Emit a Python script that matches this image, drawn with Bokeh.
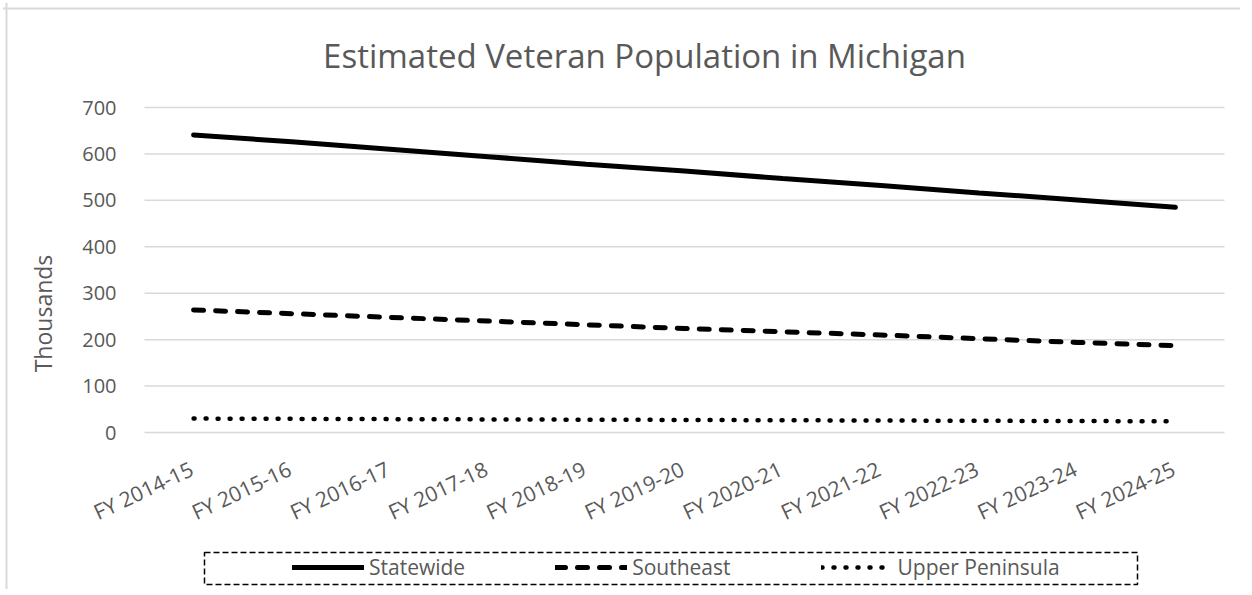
import math
from bokeh.plotting import figure
from bokeh.models import Label, Legend, LegendItem, BoxAnnotation, Range1d, Span
from bokeh.core.properties import value
from bokeh.embed import file_html
from bokeh.resources import INLINE

years = ["FY 2014-15", "FY 2015-16", "FY 2016-17", "FY 2017-18", "FY 2018-19",
         "FY 2019-20", "FY 2020-21", "FY 2021-22", "FY 2022-23", "FY 2023-24", "FY 2024-25"]
statewide = [641, 626, 610, 594, 578, 563, 547, 532, 516, 501, 485]
southeast = [264, 256, 248, 240, 232, 224, 217, 210, 202, 194, 187]
upper_peninsula = [30, 29.4, 28.8, 28.2, 27.6, 27.0, 26.4, 25.8, 25.2, 24.7, 24.2]
y_ticks = [0, 100, 200, 300, 400, 500, 600, 700]
y_tick_labels = [str(t) for t in y_ticks]

FONT = "Open Sans"
GRAY = "#595959"
GRID = "#d9d9d9"

idx = list(range(len(years)))

# Layout: the frame covers the whole chart; the value axis (0..700) uses 325 px
# and each category slot 1080/11 px.
W, H = 1238, 587
PX_X = 1080 / len(years)
PX_Y = 325 / 700
X0 = -0.5 - 142 / PX_X
X1 = X0 + W / PX_X
Y0 = -157 / PX_Y
Y1 = Y0 + H / PX_Y

p = figure(x_range=Range1d(X0, X1), y_range=Range1d(Y0, Y1),
           frame_width=W, frame_height=H,
           min_border_left=0, min_border_right=0,
           min_border_top=0, min_border_bottom=0,
           output_backend="svg", toolbar_location=None)
p.styles = {"border-top": "2px solid white", "border-left": "2px solid white"}
p.outline_line_color = None
p.background_fill_color = "white"
p.border_fill_color = "white"
p.xaxis.visible = False
p.yaxis.visible = False
p.grid.visible = False

# chart border (top and left edges visible)
p.add_layout(Span(location=4, location_units="screen", dimension="height",
                  line_color=GRID, line_width=2))
p.add_layout(Span(location=581, location_units="screen", dimension="width",
                  line_color=GRID, line_width=2))

# horizontal gridlines
n = len(years)
p.segment(x0=[-0.5] * len(y_ticks), x1=[n - 0.5] * len(y_ticks),
          y0=y_ticks, y1=y_ticks, line_color=GRID, line_width=1.5)

# value tick labels
p.text(x=[-0.5] * len(y_ticks), y=y_ticks, text=y_tick_labels,
       text_align="right", text_baseline="middle", x_offset=-28,
       text_font=value(FONT), text_font_size="20px", text_color=GRAY)

# category labels, rotated, under the zero line
p.text(x=idx, y=[0] * n, text=years, angle=0.44,
       text_align="right", text_baseline="middle", x_offset=-2, y_offset=35,
       text_font=value(FONT), text_font_size="21px", text_color=GRAY)

r1 = p.line(idx, statewide, line_color="black", line_width=5, line_cap="round")
r2 = p.line(idx, southeast, line_color="black", line_width=5, line_cap="round",
            line_dash="10 12")
r3 = p.line(idx, upper_peninsula, line_color="black", line_width=4.5, line_cap="round",
            line_dash="1 11")

# Title
p.add_layout(Label(x=642, y=534, x_units="screen", y_units="screen",
                   text="Estimated Veteran Population in Michigan",
                   text_font=FONT, text_font_size="33px", text_color=GRAY,
                   text_align="center", text_baseline="middle"))
# Value axis title
p.add_layout(Label(x=40, y=276, x_units="screen", y_units="screen",
                   text="Thousands", angle=math.pi / 2,
                   text_font=FONT, text_font_size="23px", text_color=GRAY,
                   text_align="center", text_baseline="middle"))

legend = Legend(items=[LegendItem(label="Statewide", renderers=[r1]),
                       LegendItem(label="Southeast", renderers=[r2]),
                       LegendItem(label="Upper Peninsula", renderers=[r3])],
                orientation="horizontal", location=(287, 5),
                glyph_width=72, glyph_height=20, label_standoff=5, spacing=90,
                padding=3, margin=0,
                label_text_font=FONT, label_text_font_size="21px",
                label_text_color=GRAY,
                border_line_alpha=0, background_fill_alpha=0)
p.add_layout(legend, "center")

p.add_layout(BoxAnnotation(left=202, right=1135, bottom=5, top=37,
                           left_units="screen", right_units="screen",
                           bottom_units="screen", top_units="screen",
                           fill_alpha=0, line_color="black", line_alpha=1.0,
                           line_width=1.5, line_dash="6 3"))

open("out.html", "w").write(file_html(p, INLINE))
